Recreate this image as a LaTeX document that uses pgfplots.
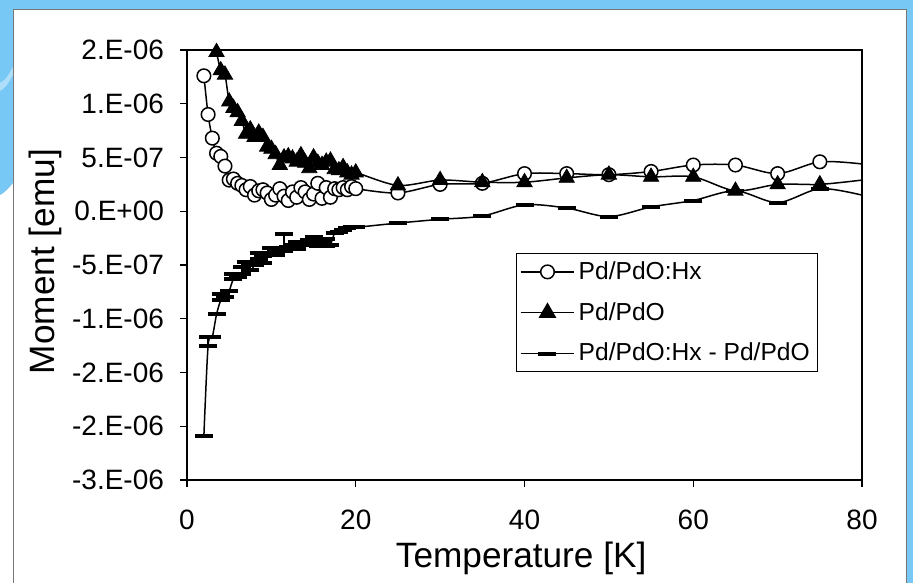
\documentclass[border=0pt]{standalone}
\usepackage{fontspec}
\setmainfont{Liberation Sans}
\usepackage{pgfplots}
\usepackage{pgfplotstable}
\pgfplotsset{compat=1.18}
\definecolor{slideblue}{RGB}{120,200,245}
\definecolor{slidelight}{RGB}{175,222,250}
\definecolor{framegray}{RGB}{120,120,120}

\pgfplotstableread{
T M
2 12.6e-7
2.5 9.0e-7
3 6.8e-7
3.5 5.4e-7
4 5.1e-7
4.5 4.2e-7
5 2.9e-7
5.5 3.0e-7
6 2.6e-7
6.5 2.4e-7
7 2.0e-7
7.5 2.3e-7
8 1.5e-7
8.5 1.9e-7
9 2.0e-7
9.5 1.7e-7
10 1.1e-7
10.5 1.5e-7
11 2.1e-7
11.5 1.4e-7
12 1.0e-7
12.5 1.8e-7
13 1.3e-7
13.5 2.2e-7
14 1.8e-7
14.5 1.1e-7
15 1.6e-7
15.5 2.6e-7
16 1.2e-7
16.5 2.2e-7
17 1.3e-7
17.5 2.1e-7
18 2.0e-7
18.5 2.2e-7
19 2.0e-7
19.5 2.3e-7
20 2.1e-7
25 1.7e-7
30 2.5e-7
35 2.6e-7
40 3.5e-7
45 3.5e-7
50 3.4e-7
55 3.7e-7
60 4.3e-7
65 4.3e-7
70 3.5e-7
75 4.6e-7
80 4.4e-7
}\hx

\pgfplotstableread{
T M
3.5 14.8e-7
4 13.1e-7
4.5 12.7e-7
5 10.2e-7
5.5 9.6e-7
6 9.2e-7
6.5 8.4e-7
7 7.2e-7
7.5 7.6e-7
8 6.9e-7
8.5 7.3e-7
9 6.9e-7
9.5 6.0e-7
10 5.8e-7
10.5 5.3e-7
11 4.3e-7
11.5 5.0e-7
12 5.1e-7
12.5 4.9e-7
13 4.6e-7
13.5 5.2e-7
14 4.5e-7
14.5 4.0e-7
15 5.0e-7
15.5 4.5e-7
16 4.3e-7
16.5 4.6e-7
17 4.7e-7
17.5 3.9e-7
18 3.8e-7
18.5 4.1e-7
19 3.6e-7
19.5 3.4e-7
20 3.6e-7
25 2.4e-7
30 2.9e-7
35 2.7e-7
40 2.7e-7
45 3.1e-7
50 3.4e-7
55 3.2e-7
60 3.2e-7
65 1.9e-7
70 2.5e-7
75 2.5e-7
80 2.9e-7
}\pdo

\pgfplotstableread{
T M E
2 -20.9e-7 0
2.5 -12.5e-7 0.8e-7
3 -11.7e-7 0
3.5 -9.6e-7 0
4 -8.3e-7 0.6e-7
4.5 -8.0e-7 0
5 -7.4e-7 0
5.5 -6.3e-7 0.5e-7
6 -6.1e-7 0
6.5 -5.8e-7 0.6e-7
7 -4.7e-7 0
7.5 -5.5e-7 0.6e-7
8 -5.0e-7 0
8.5 -4.4e-7 0.5e-7
9 -4.8e-7 0.6e-7
9.5 -4.0e-7 0
10 -3.4e-7 0
10.5 -4.1e-7 0.5e-7
11 -3.6e-7 0
11.5 -3.7e-7 1.6e-7
12 -3.3e-7 0
12.5 -3.1e-7 0
13 -3.5e-7 0.6e-7
13.5 -3.1e-7 0
14 -2.9e-7 0
14.5 -2.7e-7 0
15 -2.4e-7 0
15.5 -3.2e-7 0.5e-7
16 -2.9e-7 0
16.5 -3.2e-7 0.6e-7
17 -3.1e-7 0
17.5 -2.0e-7 0
18 -1.9e-7 0
18.5 -1.7e-7 0
19 -1.6e-7 0
19.5 -1.5e-7 0
20 -1.5e-7 0
25 -1.1e-7 0
30 -0.75e-7 0
35 -0.45e-7 0
40 0.6e-7 0
45 0.3e-7 0
50 -0.5e-7 0
55 0.4e-7 0
60 1.0e-7 0
65 1.9e-7 0
70 0.8e-7 0
75 2.1e-7 0
80 1.5e-7 0
}\diff

\begin{document}
\begin{tikzpicture}
\useasboundingbox (0,0) rectangle (456.5pt,291.5pt);
\fill[white] (0,0) rectangle (456.5pt,291.5pt);
\fill[slideblue] (0,286.5pt) rectangle (456.5pt,291.5pt);
\fill[slideblue] (453pt,0) rectangle (456.5pt,291.5pt);
\fill[slideblue] (0,291.5pt) -- (6.5pt,291.5pt) -- (6.5pt,200pt) .. controls (4pt,197pt) and (2pt,195pt) .. (0,194pt) -- cycle;
\fill[slidelight] (0,250pt) .. controls (3pt,252pt) .. (6.5pt,258pt) -- (6.5pt,254pt) .. controls (3pt,248pt) .. (0,246pt) -- cycle;
\draw[framegray, line width=0.5pt] (6.5pt,0) -- (6.5pt,286.5pt) -- (453pt,286.5pt) -- (453pt,0);

\begin{axis}[
  at={(93.5pt,51.5pt)}, anchor=south west,
  scale only axis, width=337.5pt, height=215pt,
  xmin=0, xmax=80, ymin=-2.5e-6, ymax=1.5e-6,
  xtick={0,20,40,60,80}, xticklabels={0,20,40,60,80},
  ytick={-2.5e-6,-2e-6,-1.5e-6,-1e-6,-0.5e-6,0,0.5e-6,1e-6,1.5e-6},
  yticklabels={-3.E-06,-2.E-06,-2.E-06,-1.E-06,-5.E-07,0.E+00,5.E-07,1.E-06,2.E-06},
  scaled y ticks=false, scaled x ticks=false,
  tick align=outside, major tick length=3.5pt,
  xtick pos=bottom, ytick pos=left,
  tick style={black, line width=0.6pt},
  axis line style={black, line width=0.75pt},
  tick label style={font=\fontsize{14}{17}\selectfont},
  xticklabel style={yshift=-8pt},
  yticklabel style={xshift=-4.5pt},
  xlabel={Temperature [K]}, ylabel={Moment [emu]},
  label style={font=\fontsize{17.6}{21}\selectfont},
  xlabel style={at={(axis description cs:0.495,0)}, anchor=base, yshift=-43.5pt},
  ylabel style={at={(axis description cs:-0.197,0.508)}, anchor=base},
  clip mode=individual,
  legend style={at={(rel axis cs:0.487,0.528)}, anchor=north west, draw=black, line width=0.5pt,
    font=\fontsize{12.3}{14}\selectfont, inner xsep=2pt, inner ysep=2pt, row sep=6pt,
    /tikz/every even column/.append style={column sep=2pt}},
  legend cell align=left,
  legend image code/.code={\draw[mark repeat=2,mark phase=2,#1] plot coordinates {(0pt,0pt) (13.25pt,0pt) (26.5pt,0pt)};},
]
% Pd/PdO:Hx
\addplot[black, line width=0.75pt, smooth, tension=0.5, no marks, forget plot] table[x=T,y=M] {\hx};
\addplot[only marks, mark=*, mark size=3.4pt, mark options={fill=white, draw=black, line width=0.75pt}, restrict x to domain=0:79, forget plot] table[x=T,y=M] {\hx};
% Pd/PdO
\addplot[black, line width=0.75pt, smooth, tension=0.5, no marks, forget plot] table[x=T,y=M] {\pdo};
\addplot[only marks, mark=triangle*, mark size=4.4pt, mark options={fill=black, draw=black}, restrict x to domain=0:79, forget plot] table[x=T,y=M] {\pdo};
% difference
\addplot[black, line width=0.75pt, smooth, tension=0.5, no marks, forget plot] table[x=T,y=M] {\diff};
\addplot[forget plot, only marks, mark=-, mark size=4.5pt, mark options={line width=2pt}, restrict x to domain=0:79,
  error bars/.cd, y dir=plus, y explicit, error mark=|, error mark options={line width=2pt, mark size=4.5pt},
  error bar style={line width=0.75pt}] table[x=T,y=M,y error=E] {\diff};

\addlegendimage{black, line width=0.75pt, mark=*, mark size=3.4pt, mark options={fill=white, draw=black, line width=0.75pt}}
\addlegendentry{Pd/PdO:Hx}
\addlegendimage{black, line width=0.75pt, mark=triangle*, mark size=4.4pt, mark options={fill=black}}
\addlegendentry{Pd/PdO}
\addlegendimage{black, line width=0.75pt, mark=-, mark size=4.5pt, mark options={line width=2pt}}
\addlegendentry{Pd/PdO:Hx - Pd/PdO}
\end{axis}
\end{tikzpicture}
\end{document}
